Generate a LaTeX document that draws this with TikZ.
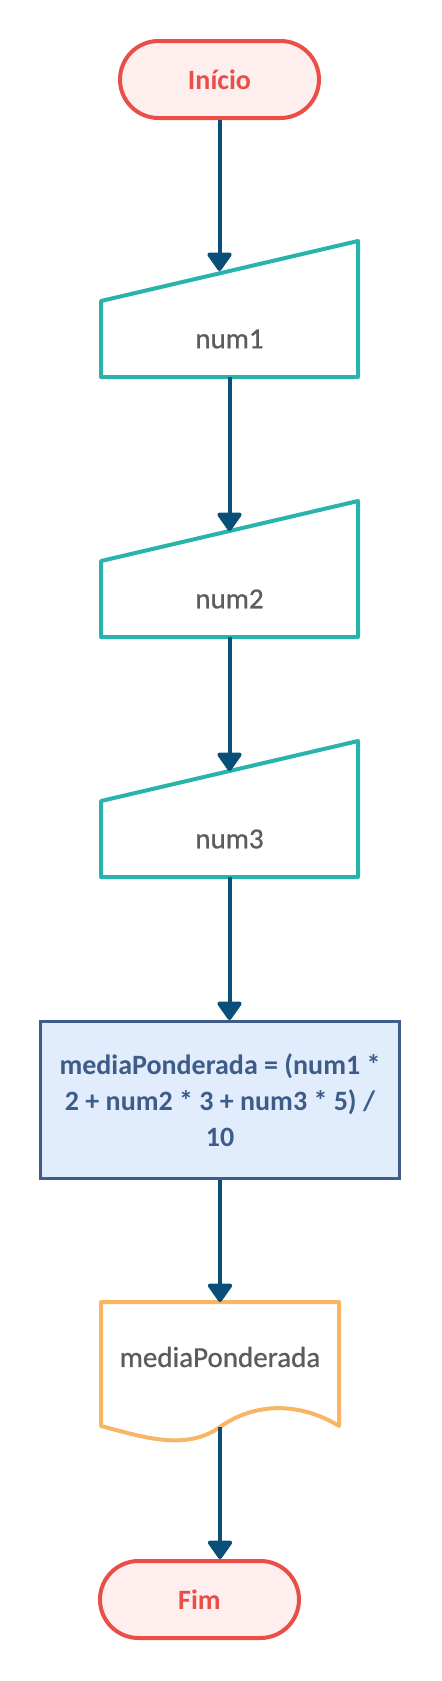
\documentclass[tikz,border=0pt]{standalone}
\usepackage{fontspec}
\setmainfont{Carlito}
\newfontfamily\labelfont[FakeBold=0.8]{Carlito}
\usetikzlibrary{arrows.meta,calc}
\definecolor{termred}{HTML}{EB4D47}
\definecolor{termfill}{HTML}{FEEFEE}
\definecolor{inputteal}{HTML}{2AB2AC}
\definecolor{labelgray}{HTML}{5C5C5C}
\definecolor{procblue}{HTML}{3E5C88}
\definecolor{procfill}{HTML}{E1EDFC}
\definecolor{docorange}{HTML}{F8B564}
\definecolor{arrowblue}{HTML}{0A4F7A}
\tikzset{
  termbox/.style={
    draw=termred,
    line width=2pt,
    fill=termfill,
    rounded corners=19.25pt,
    minimum width=99.5pt,
    minimum height=38.5pt,
    text=termred,
    font=\fontsize{14}{18}\selectfont\bfseries
  },
  inputbox/.style={
    outer sep=0pt,
    minimum width=128.5pt,
    minimum height=38pt,
    text=labelgray,
    font=\labelfont\fontsize{14.5}{18}\selectfont
  },
  inputline/.style={draw=inputteal,line width=2pt,line join=round},
  procbox/.style={
    draw=procblue,
    line width=1.5pt,
    fill=procfill,
    minimum width=179.5pt,
    minimum height=78.5pt,
    align=center,
    text=procblue,
    font=\fontsize{14}{18}\selectfont\bfseries
  },
  docbox/.style={
    outer sep=0pt,
    minimum width=119pt,
    minimum height=55pt,
    text=labelgray,
    font=\labelfont\fontsize{14.5}{18}\selectfont
  },
  docline/.style={draw=docorange,line width=2pt,line join=round},
  flowarrow/.style={-{Triangle[width=13.5pt,length=10pt,round]},line width=2pt,draw=arrowblue}
}
\begin{document}
\begin{tikzpicture}[x=0.5pt,y=-0.5pt]
\useasboundingbox (0,0) rectangle (441,1681);
\node[termbox] (inicio) at (219.5,79.5) {Início};
\node[inputbox] (num1) at (229.5,339) {num1};
\node[inputbox] (num2) at (229.5,599) {num2};
\node[inputbox] (num3) at (229.5,839) {num3};
\node[procbox] (proc) at (220,1100) {mediaPonderada = (num1 *\\2 + num2 * 3 + num3 * 5) /\\10};
\node[docbox] (docu) at (220,1357) {mediaPonderada};
\node[termbox] (fim) at (199.5,1599.5) {Fim};
% input shapes
\foreach \n in {num1,num2,num3}{
  \draw[inputline] (\n.north west) -- coordinate (\n-in) ($(\n.north east)+(0,-60)$)
    -- (\n.south east) -- (\n.south west) -- cycle;
}
% document shape
\draw[docline] (docu.north west) -- (docu.north east) -- ($(docu.south east)+(0,14)$)
  .. controls (300,1402) and (255,1402) .. (220,1427) coordinate (docu-out)
  .. controls (185,1452) and (140,1436) .. ($(docu.south west)+(0,14)$) -- cycle;
\draw[flowarrow] (inicio.south) -- (inicio.south |- num1-in);
\draw[flowarrow] (num1.south) -- (num2-in);
\draw[flowarrow] (num2.south) -- (num3-in);
\draw[flowarrow] (num3.south) -- (num3.south |- proc.north);
\draw[flowarrow] (proc.south) -- (docu.north);
\draw[flowarrow] (docu-out) -- (docu-out |- fim.north);
\end{tikzpicture}
\end{document}
